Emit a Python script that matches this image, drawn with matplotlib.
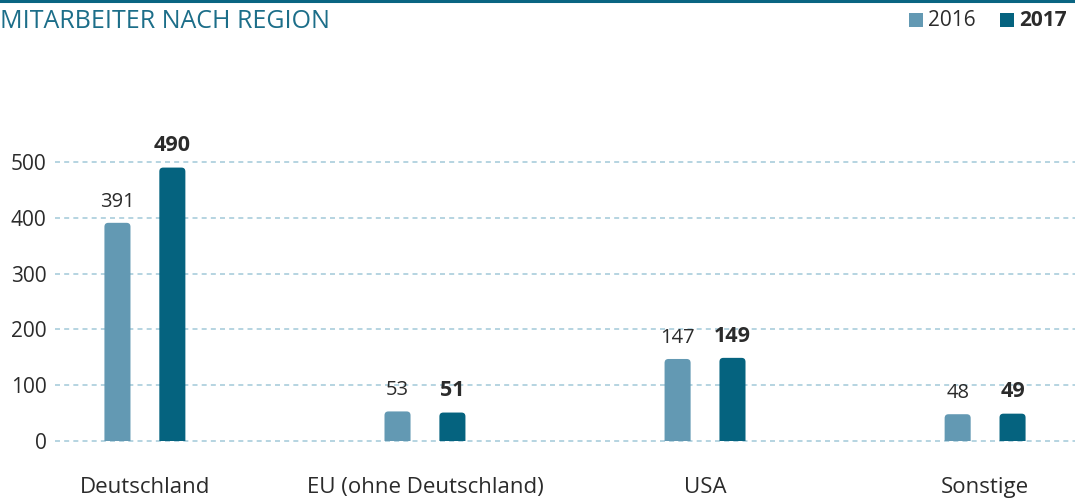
import matplotlib

matplotlib.use("Agg")
import matplotlib.pyplot as plt
from matplotlib.lines import Line2D
from matplotlib.patches import FancyBboxPatch, Rectangle

plt.rcParams["font.family"] = ["Open Sans", "DejaVu Sans"]

# data
regions = ["Deutschland", "EU (ohne Deutschland)", "USA", "Sonstige"]
years = ["2016", "2017"]
staff_2016 = [391, 53, 147, 48]
staff_2017 = [490, 51, 149, 49]
y_ticks = [0, 100, 200, 300, 400, 500]

TEAL = "#1c6e89"
C2016 = "#6399b3"
C2017 = "#05637f"
TEXT = "#2b2b2b"
GRID = "#a9cddc"

W, H = 1075, 498
fig = plt.figure(figsize=(W / 100, H / 100), dpi=100)
ax = fig.add_axes([55 / W, 57 / H, 1020 / W, 279 / H])

x = list(range(len(regions)))
off, width = 0.098, 0.093
ax.set_xlim(-0.321, 3.321)
ax.set_ylim(0, 500)

# rounded-top bars; bottom rounding clipped away at y=0
aspect = (500 / 279) / (3.642 / 1020)
clip = Rectangle((-1, 0), 10, 2000, transform=ax.transData)
for vals, dx, color, weight, fs in [(staff_2016, -off, C2016, "normal", 14.5),
                                    (staff_2017, off, C2017, "bold", 15.5)]:
    for xi, v in zip(x, vals):
        p = FancyBboxPatch((xi + dx - width / 2, -20), width, v + 20,
                           boxstyle="round,pad=0,rounding_size=0.014",
                           mutation_aspect=aspect, facecolor=color, edgecolor="none", zorder=3)
        ax.add_patch(p)
        p.set_clip_path(clip)
        ax.text(xi + dx, v + 20, str(v), ha="center", va="bottom", fontsize=fs,
                fontweight=weight, color=TEXT, clip_on=False)

for yt in y_ticks:
    ax.axhline(yt, color=GRID, lw=1.2, ls=(0, (3, 2.5)), zorder=1, clip_on=False)

ax.set_yticks(y_ticks)
ax.set_yticklabels([str(t) for t in y_ticks], fontsize=15, color=TEXT)
ax.set_xticks(x)
ax.set_xticklabels(regions, fontsize=16, color=TEXT)
ax.tick_params(axis="y", length=0, pad=6)
ax.tick_params(axis="x", length=0, pad=26)
for s in ax.spines.values():
    s.set_visible(False)

# header: rule, title, legend
fig.add_artist(Line2D([0, 1], [1 - 1 / H, 1 - 1 / H], color="#0a6582", lw=2.2, transform=fig.transFigure))
fig.text(0, 1 - 21 / H, "MITARBEITER NACH REGION", fontsize=18, color=TEAL, va="center", ha="left")
for name, color, weight, x0 in [(years[0], C2016, "normal", 909), (years[1], C2017, "bold", 1000)]:
    fig.add_artist(Rectangle((x0 / W, 1 - 27 / H), 14 / W, 14 / H, facecolor=color,
                             edgecolor="none", transform=fig.transFigure))
    fig.text((x0 + 19) / W, 1 - 20 / H, name, fontsize=15, fontweight=weight,
             color=TEXT, va="center", ha="left")

fig.savefig("out.png", dpi=100)
